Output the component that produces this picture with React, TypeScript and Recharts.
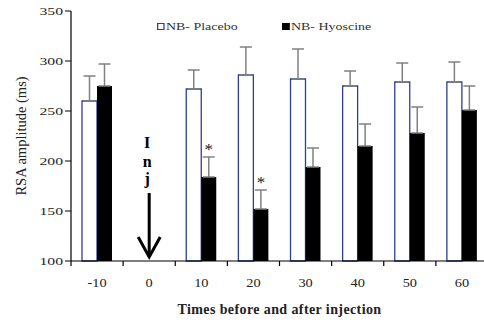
import React from "react";
import {
  BarChart,
  Bar,
  XAxis,
  YAxis,
  ErrorBar,
  ReferenceDot,
  ReferenceLine,
} from "recharts";

// time points (min) before/after injection
const categories = ["-10", "0", "10", "20", "30", "40", "50", "60"];
const placebo = [260, null, 272, 286, 282, 275, 279, 279];
const placeboSd = [25, null, 19, 28, 30, 15, 19, 20];
const hyoscine = [275, null, 184, 152, 194, 215, 228, 251];
const hyoscineSd = [22, null, 20, 19, 19, 22, 26, 24];
const significant = [false, false, true, true, false, false, false, false];
const yTicks = [100, 150, 200, 250, 300, 350];

// "Inj" marker drawn at t = 0
const injLetters = ["I", "n", "j"];
const injLetterY = [219, 200, 183];
const arrowFrom = 168;
const arrowTo = 104;

const data = categories.map((t, i) => ({
  time: t,
  placebo: placebo[i],
  placeboErr: placeboSd[i] == null ? null : [0, placeboSd[i]],
  hyoscine: hyoscine[i],
  hyoscineErr: hyoscineSd[i] == null ? null : [0, hyoscineSd[i]],
}));

const W = 490;
const H = 322;
const MARGIN = { top: 11, right: 2, left: 0, bottom: 0 };
const Y_AXIS_W = 71;
const BAR = 15;
const HALF_BAND = (W - MARGIN.left - MARGIN.right - Y_AXIS_W) / categories.length / 2;
const FONT = "'Liberation Serif', 'Times New Roman', serif";

function XTick(props: any) {
  const { x, y, payload } = props;
  return (
    <g>
      <line x1={x - HALF_BAND} x2={x - HALF_BAND} y1={y - 8} y2={y - 3} stroke="#000" strokeWidth={1.2} />
      <text
        transform={`translate(${x},${y + 18}) scale(1.25,1)`}
        textAnchor="middle"
        fontSize={11.5}
        fontFamily={FONT}
        fill="#222"
      >
        {payload.value}
      </text>
    </g>
  );
}

function YTick(props: any) {
  const { x, y, payload } = props;
  return (
    <text
      transform={`translate(${x},${y}) scale(1.5,1)`}
      textAnchor="end"
      dominantBaseline="central"
      fontSize={10.5}
      fontFamily={FONT}
      fill="#222"
    >
      {payload.value}
    </text>
  );
}

function LegendBox() {
  const item = (fill: string, stroke: string, label: string, left: number) => (
    <div
      style={{
        position: "absolute",
        left,
        top: 20,
        display: "flex",
        alignItems: "center",
        whiteSpace: "nowrap",
        transform: "scale(1.27,1)",
        transformOrigin: "left center",
      }}
    >
      <span style={{ width: 4, height: 5, border: `1.5px solid ${stroke}`, background: fill, marginRight: 1 }} />
      <span style={{ fontFamily: FONT, fontSize: 11, color: "#333" }}>{label}</span>
    </div>
  );
  return (
    <>
      {item("#fff", "#2e3f91", "NB- Placebo", 157)}
      {item("#000", "#000", "NB- Hyoscine", 282)}
    </>
  );
}

export default function App() {
  return (
    <div style={{ position: "absolute", left: 0, top: 0, width: 484, height: 322, overflow: "hidden", background: "#fff" }}>
      <BarChart width={W} height={H} data={data} margin={MARGIN} barGap={0} barSize={BAR}>
        <XAxis
          dataKey="time"
          height={61}
          tick={<XTick />}
          tickLine={false}
          axisLine={{ stroke: "#000", strokeWidth: 1.2 }}
          label={{
            content: (p: any) => (
              <text
                x={p.viewBox.x + p.viewBox.width / 2}
                y={314}
                textAnchor="middle"
                fontSize={14}
                letterSpacing={0.4}
                fontWeight="bold"
                fontFamily={FONT}
                fill="#222"
              >
                Times before and after injection
              </text>
            ),
          }}
        />
        <YAxis
          width={Y_AXIS_W}
          domain={[100, 350]}
          ticks={yTicks}
          interval={0}
          tick={<YTick />}
          tickSize={6}
          tickLine={{ stroke: "#000" }}
          axisLine={{ stroke: "#000", strokeWidth: 1.2 }}
          label={{
            content: (p: any) => {
              const cx = 21;
              const cy = p.viewBox.y + p.viewBox.height / 2;
              return (
                <text
                  x={cx}
                  y={cy}
                  transform={`rotate(-90, ${cx}, ${cy})`}
                  textAnchor="middle"
                  dominantBaseline="central"
                  fontSize={14.5}
                  fontFamily={FONT}
                  fill="#222"
                >
                  RSA amplitude (ms)
                </text>
              );
            },
          }}
        />
        <Bar dataKey="placebo" fill="#fff" stroke="#2e3f91" strokeWidth={1.3} isAnimationActive={false}>
          <ErrorBar dataKey="placeboErr" width={6} stroke="#808080" strokeWidth={1.5} direction="y" />
        </Bar>
        <Bar dataKey="hyoscine" fill="#000" isAnimationActive={false}>
          <ErrorBar dataKey="hyoscineErr" width={6} stroke="#808080" strokeWidth={1.5} direction="y" />
        </Bar>
        {categories.map((t, i) =>
          significant[i] ? (
            <ReferenceDot
              key={`sig-${t}`}
              x={t}
              y={hyoscine[i]! + hyoscineSd[i]! + 10}
              shape={(p: any) => (
                <text
                  x={p.cx + BAR / 2}
                  y={p.cy + 8}
                  textAnchor="middle"
                  fontSize={17}
                  fontFamily={FONT}
                  fill="#222"
                >
                  *
                </text>
              )}
            />
          ) : null
        )}
        <ReferenceLine
          segment={[
            { x: "0", y: arrowFrom },
            { x: "0", y: arrowTo },
          ]}
          shape={(p: any) => {
            const { x1, y1, x2, y2 } = p;
            return (
              <g>
                <line x1={x1} y1={y1} x2={x2} y2={y2} stroke="#000" strokeWidth={3} />
                <polyline
                  points={`${x2 - 11},${y2 - 20} ${x2},${y2} ${x2 + 11},${y2 - 20}`}
                  fill="none"
                  stroke="#000"
                  strokeWidth={3}
                />
              </g>
            );
          }}
        />
        {injLetters.map((ch, i) => (
          <ReferenceDot
            key={ch}
            x="0"
            y={injLetterY[i]}
            shape={(p: any) => (
              <text
                x={p.cx - 2}
                y={p.cy}
                textAnchor="middle"
                dominantBaseline="central"
                fontSize={16}
                fontWeight="bold"
                fontFamily={FONT}
                fill="#000"
              >
                {ch}
              </text>
            )}
          />
        ))}
      </BarChart>
      <LegendBox />
    </div>
  );
}
